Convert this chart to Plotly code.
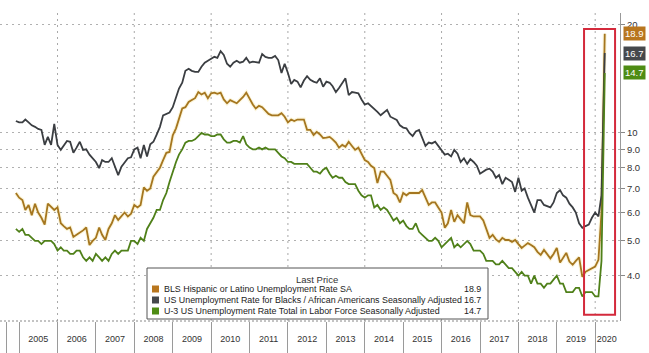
import math
import pandas as pd
import plotly.graph_objects as go

# ---------------- data (monthly, Dec 2004 .. Apr 2020) ----------------
start_month = "2004-12-01"

hispanic = [6.8,
    6.6, 6.5, 6.1, 6.3, 5.9, 6.35, 6.0, 5.8, 5.55, 6.35, 6.2, 6.1,
    6.2, 5.6, 5.5, 5.4, 5.45, 5.13, 5.2, 5.26, 5.35, 5.45, 4.87, 5.0,
    5.1, 5.45, 5.2, 5.03, 5.4, 5.6, 5.9, 5.72, 5.85, 6.0, 5.85, 5.95,
    6.3, 6.2, 6.3, 7.05, 6.9, 7.0, 7.55, 7.8, 8.0, 8.4, 8.8, 8.85,
    9.85, 10.3, 10.9, 11.7, 11.8, 12.2, 12.35, 12.5, 13.0, 12.8, 12.95, 12.5,
    12.9, 12.95, 12.85, 12.95, 12.4, 12.1, 12.35, 12.2, 12.1, 12.35, 12.6, 12.95,
    12.4, 12.0, 11.7, 11.9, 11.8, 11.5, 11.3, 11.2, 11.2, 11.2, 11.35, 11.1,
    10.7, 10.9, 10.8, 10.9, 10.9, 10.9, 10.2, 10.2, 9.87, 10.07, 9.9, 9.68,
    9.7, 9.75, 9.6, 9.4, 9.1, 9.26, 9.15, 9.45, 9.2, 8.97, 9.1, 8.7,
    8.4, 8.3, 8.1, 7.98, 7.25, 7.8, 7.8, 7.6, 7.4, 6.8, 6.7, 6.4,
    6.8, 6.7, 6.8, 6.8, 6.8, 6.8, 6.93, 6.6, 6.3, 6.4, 6.4, 6.2,
    6.0, 5.44, 5.6, 6.1, 5.65, 5.9, 5.75, 5.6, 6.4, 5.9, 5.85, 5.85,
    5.85, 5.7, 5.37, 5.1, 5.2, 5.05, 4.97, 5.1, 5.03, 5.03, 4.97, 5.03,
    4.9, 4.78, 4.85, 4.93, 4.87, 4.8, 4.66, 4.57, 4.72, 4.6, 4.47, 4.6,
    4.78, 4.35, 4.5, 4.63, 4.38, 4.29, 4.4, 4.5, 3.97, 4.1, 4.15, 4.2,
    4.24, 4.43, 6.0, 18.9]

black = [10.8,
    10.7, 10.7, 10.9, 10.7, 10.5, 10.4, 10.26, 10.2, 9.26, 9.75, 9.26, 10.6,
    9.26, 8.97, 9.2, 9.5, 9.45, 8.8, 9.1, 9.45, 8.97, 9.0, 8.7, 8.5,
    8.3, 7.98, 8.4, 8.3, 8.3, 8.5, 8.1, 7.63, 8.05, 8.3, 8.5, 8.55,
    9.0, 9.1, 8.5, 9.26, 8.6, 9.3, 9.45, 9.9, 10.4, 11.2, 11.3, 11.4,
    11.8, 12.6, 13.3, 13.8, 14.9, 15.1, 14.9, 14.8, 14.8, 15.3, 15.7, 15.9,
    16.1, 16.3, 16.2, 16.9, 16.5, 15.6, 15.3, 15.7, 15.9, 15.7, 15.8, 16.2,
    15.7, 15.8, 15.75, 15.7, 16.6, 16.3, 16.2, 16.2, 16.4, 15.97, 14.7, 15.6,
    14.7, 13.7, 14.06, 13.9, 13.4, 14.0, 14.4, 14.06, 13.9, 13.8, 14.2, 13.45,
    13.9, 13.8, 13.5, 13.0, 13.35, 13.8, 14.2, 12.75, 13.0, 12.95, 12.9, 12.4,
    12.0, 12.1, 11.9, 11.7, 11.45, 11.2, 11.4, 11.6, 11.1, 11.0, 10.87, 10.5,
    10.35, 10.3, 10.0, 9.8, 10.1, 10.2, 9.7, 9.2, 9.4, 9.35, 9.45, 9.2,
    8.9, 8.7, 8.75, 8.6, 8.97, 8.75, 8.3, 8.5, 8.2, 8.45, 8.3, 8.1,
    7.7, 7.8, 7.9, 7.95, 7.8, 7.5, 7.63, 7.2, 7.5, 7.4, 7.3, 6.85,
    7.5, 6.9, 7.0, 6.6, 6.3, 6.0, 6.5, 6.5, 6.3, 6.25, 6.2, 6.4,
    6.8, 6.93, 6.7, 6.6, 6.35, 6.2, 6.0, 5.6, 5.44, 5.5, 5.55, 5.8,
    6.0, 5.85, 6.7, 16.7]

u3 = [5.4,
    5.3, 5.4, 5.2, 5.2, 5.1, 5.0, 5.0, 4.9, 5.0, 5.0, 5.0, 4.9,
    4.7, 4.8, 4.7, 4.7, 4.6, 4.6, 4.7, 4.7, 4.5, 4.4, 4.5, 4.4,
    4.6, 4.5, 4.4, 4.5, 4.4, 4.6, 4.7, 4.6, 4.7, 4.7, 4.7, 5.0,
    5.0, 4.9, 5.1, 5.0, 5.4, 5.6, 5.8, 6.1, 6.1, 6.5, 6.8, 7.3,
    7.8, 8.3, 8.7, 9.0, 9.4, 9.5, 9.5, 9.6, 9.8, 10.0, 9.9, 9.9,
    9.8, 9.8, 9.9, 9.9, 9.6, 9.4, 9.4, 9.5, 9.5, 9.4, 9.8, 9.3,
    9.1, 9.0, 9.0, 9.1, 9.0, 9.1, 9.0, 9.0, 9.0, 8.8, 8.6, 8.5,
    8.3, 8.3, 8.2, 8.2, 8.2, 8.2, 8.2, 8.0, 7.8, 7.8, 7.7, 7.9,
    8.0, 7.7, 7.5, 7.6, 7.5, 7.5, 7.3, 7.2, 7.2, 7.2, 6.9, 6.7,
    6.6, 6.7, 6.7, 6.2, 6.3, 6.1, 6.2, 6.1, 5.9, 5.7, 5.8, 5.6,
    5.7, 5.5, 5.4, 5.4, 5.6, 5.3, 5.2, 5.1, 5.0, 5.0, 5.1, 5.0,
    4.8, 4.9, 5.0, 5.1, 4.8, 4.9, 4.8, 4.9, 5.0, 4.9, 4.7, 4.7,
    4.7, 4.6, 4.4, 4.4, 4.4, 4.3, 4.3, 4.4, 4.3, 4.2, 4.2, 4.1,
    4.0, 4.1, 4.0, 4.0, 3.8, 4.0, 3.8, 3.8, 3.7, 3.8, 3.8, 3.9,
    4.0, 3.8, 3.8, 3.6, 3.6, 3.6, 3.7, 3.7, 3.5, 3.6, 3.6, 3.6,
    3.5, 3.5, 4.4, 14.7]

series_names = [
    "BLS Hispanic or Latino Unemployment Rate SA",
    "US Unemployment Rate for Blacks / African Americans Seasonally Adjusted",
    "U-3 US Unemployment Rate Total in Labor Force Seasonally Adjusted",
]
series_colors = ["#a5761f", "#3b3e42", "#4f8019"]
box_colors = ["#b8761e", "#45484c", "#4e8c14"]
last_values = [hispanic[-1], black[-1], u3[-1]]

years = list(range(2005, 2021))
year_label_pos = [f"{y}-07-02" for y in years[:-1]] + ["2020-04-20"]
year_sep = ["2004-09-07"] + [f"{y}-01-01" for y in years]
grid_years = [f"{y}-01-01" for y in range(2006, 2021, 2)]
y_ticks = [4, 5, 6, 7, 8, 9, 10, 20]
y_text = ["4.0", "5.0", "6.0", "7.0", "8.0", "9.0", "10", "20"]

x_range = ["2004-07-03", "2020-08-24"]
y_lo, y_hi = 2.99, 21.6
highlight_x = ["2019-09-17", "2020-07-08"]
highlight_y = [3.11, 19.5]

dates = pd.date_range(start_month, periods=len(u3), freq="MS")

def ypaper(v):
    return (math.log10(v) - math.log10(y_lo)) / (math.log10(y_hi) - math.log10(y_lo))

fig = go.Figure()
# soft glow under hispanic line
fig.add_trace(go.Scatter(x=dates, y=hispanic, mode="lines",
                         line=dict(color="rgba(235,210,90,0.22)", width=4),
                         hoverinfo="skip", showlegend=False))
for vals, name, col in zip([hispanic, black, u3], series_names, series_colors):
    fig.add_trace(go.Scatter(x=dates, y=vals, mode="lines", name=name,
                             line=dict(color=col, width=1.8), showlegend=False))

FONT = "Liberation Sans, Arial, sans-serif"
shapes = []
for g in grid_years:
    shapes.append(dict(type="line", xref="x", yref="paper", x0=g, x1=g, y0=0, y1=1,
                       line=dict(color="#a8a8a8", width=1, dash="2px,4px"), layer="below"))
# dotted bottom axis
shapes.append(dict(type="line", xref="paper", yref="paper", x0=0, x1=1, y0=0, y1=0,
                   line=dict(color="#888", width=1, dash="2px,2px")))
# red highlight box
shapes.append(dict(type="rect", xref="x", yref="paper",
                   x0=highlight_x[0], x1=highlight_x[1],
                   y0=ypaper(highlight_y[0]), y1=ypaper(highlight_y[1]),
                   line=dict(color="#d42a3c", width=2), fillcolor="rgba(0,0,0,0)"))

# legend box
W, H = 620.0, 308.0
def px(x): return x / W
def py(y): return (321.0 - y) / H
shapes.append(dict(type="rect", xref="paper", yref="paper",
                   x0=px(147), x1=px(488), y0=py(319), y1=py(268),
                   line=dict(color="#555", width=1), fillcolor="white"))
annotations = [dict(xref="paper", yref="paper", x=px(317), y=py(279), text="Last Price",
                    showarrow=False, font=dict(family=FONT, size=9.5, color="#333"),
                    xanchor="center", yanchor="middle")]
row_y = [289, 300, 311]
for name, col, val, ry in zip(series_names, box_colors, last_values, row_y):
    shapes.append(dict(type="rect", xref="paper", yref="paper",
                       x0=px(152), x1=px(159), y0=py(ry + 3.5), y1=py(ry - 3.5),
                       line=dict(width=0), fillcolor=col))
    annotations.append(dict(xref="paper", yref="paper", x=px(162), y=py(ry), text=name,
                            showarrow=False, xanchor="left", yanchor="middle",
                            font=dict(family=FONT, size=8.9, color="#222")))
    annotations.append(dict(xref="paper", yref="paper", x=px(483), y=py(ry), text=f"{val:.1f}",
                            showarrow=False, xanchor="right", yanchor="middle",
                            font=dict(family=FONT, size=8.9, color="#222")))

# last value boxes on right axis
for col, val in zip(box_colors, last_values):
    annotations.append(dict(xref="paper", yref="y", x=1, y=math.log10(val), text=f"{val:.1f}",
                            showarrow=False, xanchor="left", yanchor="middle", xshift=3,
                            bgcolor=col, borderpad=1,
                            font=dict(family=FONT, size=9.5, color="white")))

fig.update_layout(
    width=649, height=353,
    margin=dict(l=0, r=29, t=13, b=32),
    paper_bgcolor="white", plot_bgcolor="white",
    showlegend=False,
    shapes=shapes, annotations=annotations,
    xaxis=dict(type="date", range=x_range, showgrid=False, zeroline=False,
               tickvals=year_label_pos, ticktext=[str(y) for y in years],
               ticks="", ticklabelstandoff=11,
               tickfont=dict(family=FONT, size=9, color="#333"),
               minor=dict(tickvals=year_sep, ticks="outside", ticklen=32,
                          tickcolor="#9a9a9a", tickwidth=1, showgrid=False),
               showline=False, automargin=False),
    yaxis=dict(type="log", side="right", range=[math.log10(y_lo), math.log10(y_hi)],
               tickvals=y_ticks, ticktext=y_text, ticks="outside", ticklen=4,
               tickcolor="#888", showline=True, linecolor="#999", linewidth=1,
               showgrid=True, gridcolor="#b0b0b0", griddash="2px,4px", gridwidth=1,
               zeroline=False, automargin=False,
               tickfont=dict(family=FONT, size=9.5, color="#333")),
)

fig.write_html("out.html")
